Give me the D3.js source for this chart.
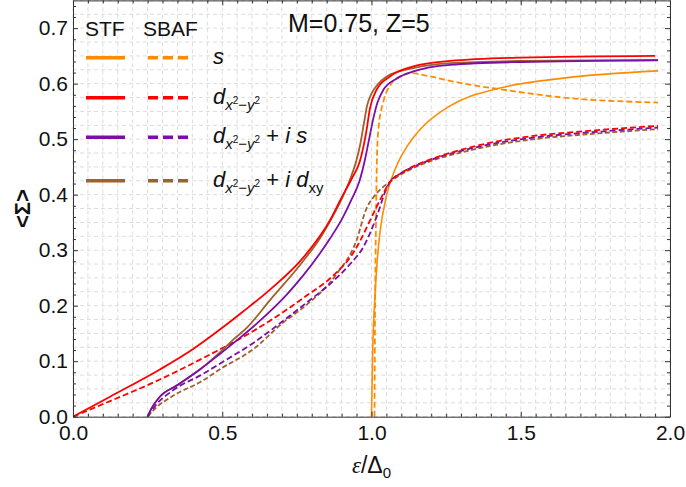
<!DOCTYPE html>
<html><head><meta charset="utf-8">
<script src="https://cdn.jsdelivr.net/npm/d3@7"></script>
<style>body{margin:0;background:#fff}svg{display:block}text{font-family:"Liberation Sans",Arial,sans-serif}</style>
</head><body><svg id="c" width="686" height="487"></svg>
<script>
// ---- data ----
const xTicks = [0.0, 0.5, 1.0, 1.5, 2.0];
const yTicks = [0.0, 0.1, 0.2, 0.3, 0.4, 0.5, 0.6, 0.7];
const title = "M=0.75, Z=5";
const stf_s = [[1.0,0],[1.004,0.12],[1.012,0.22],[1.019,0.28],[1.028,0.33],[1.051,0.40],[1.084,0.452],[1.118,0.486],[1.162,0.517],[1.263,0.560],[1.43,0.592],[1.643,0.610],[1.96,0.623]];
const sbaf_s = [[1.01,0],[1.012,0.2],[1.015,0.35],[1.018,0.46],[1.023,0.517],[1.04,0.568],[1.065,0.599],[1.095,0.613],[1.13,0.619],[1.196,0.613],[1.263,0.605],[1.31,0.600],[1.43,0.590],[1.643,0.575],[1.96,0.566]];
const stf_d = [[0,0],[0.124,0.036],[0.291,0.085],[0.40,0.121],[0.492,0.157],[0.571,0.19],[0.66,0.229],[0.772,0.287],[0.861,0.354],[0.90,0.395],[0.935,0.43],[0.961,0.46],[0.983,0.515],[0.995,0.556],[1.017,0.589],[1.062,0.613],[1.14,0.631],[1.263,0.641],[1.5,0.647],[1.95,0.650]];
const sbaf_d = [[0,0],[0.124,0.028],[0.291,0.067],[0.459,0.112],[0.571,0.144],[0.66,0.173],[0.772,0.214],[0.883,0.260],[0.93,0.288],[0.961,0.316],[0.985,0.342],[1.006,0.366],[1.03,0.392],[1.062,0.423],[1.1,0.439],[1.14,0.451],[1.2,0.464],[1.308,0.482],[1.43,0.497],[1.531,0.505],[1.75,0.516],[1.96,0.524]];
const stf_dis = [[0.25,0],[0.262,0.014],[0.291,0.036],[0.347,0.056],[0.425,0.085],[0.492,0.113],[0.559,0.142],[0.62,0.17],[0.716,0.22],[0.772,0.255],[0.827,0.294],[0.861,0.321],[0.90,0.355],[0.932,0.39],[0.96,0.425],[0.978,0.463],[0.992,0.50],[1.006,0.537],[1.02,0.566],[1.04,0.589],[1.084,0.609],[1.14,0.622],[1.263,0.634],[1.5,0.639],[1.96,0.642]];
const stf_dixy = [[0.25,0],[0.262,0.014],[0.291,0.036],[0.347,0.056],[0.425,0.085],[0.492,0.116],[0.537,0.139],[0.582,0.160],[0.66,0.210],[0.772,0.281],[0.827,0.321],[0.861,0.352],[0.90,0.392],[0.93,0.43],[0.95,0.463],[0.962,0.49],[0.975,0.53],[0.985,0.56],[1.0,0.582],[1.02,0.598],[1.051,0.613],[1.14,0.628],[1.263,0.637],[1.5,0.641],[1.96,0.643]];
const sbaf_dis = [[0.25,0],[0.27,0.016],[0.336,0.048],[0.425,0.074],[0.515,0.103],[0.61,0.135],[0.70,0.171],[0.772,0.201],[0.883,0.250],[0.93,0.276],[0.973,0.306],[1.017,0.360],[1.051,0.412],[1.062,0.423],[1.1,0.439],[1.14,0.450],[1.2,0.463],[1.308,0.480],[1.43,0.494],[1.531,0.502],[1.75,0.513],[1.96,0.521]];
const sbaf_dixy = [[0.25,0],[0.27,0.012],[0.336,0.038],[0.425,0.062],[0.5,0.088],[0.6,0.120],[0.705,0.170],[0.772,0.197],[0.883,0.257],[0.95,0.318],[0.983,0.375],[1.006,0.395],[1.035,0.412],[1.062,0.423],[1.1,0.437],[1.14,0.448],[1.2,0.461],[1.308,0.477],[1.43,0.491],[1.531,0.499],[1.75,0.510],[1.96,0.518]];

const colors = {s:"#FF8C00", d:"#FF0000", dis:"#7A0FA8", dixy:"#A0612A"};
const series = [
  {data:stf_s, c:colors.s, dash:null, w:1.6},
  {data:sbaf_s, c:colors.s, dash:"6,3", w:1.8},
  {data:sbaf_dixy, c:colors.dixy, dash:"5,2.5", w:1.8},
  {data:sbaf_dis, c:colors.dis, dash:"6,3", w:1.8},
  {data:sbaf_d, c:colors.d, dash:"6,3", w:1.8},
  {data:stf_dixy, c:colors.dixy, dash:null, w:1.8},
  {data:stf_dis, c:colors.dis, dash:null, w:1.8},
  {data:stf_d, c:colors.d, dash:null, w:1.8}
];

// ---- layout ----
const L=73, R=670, T=0.4, B=416.7;
const svg = d3.select("#c");
const x = d3.scaleLinear().domain([0,2]).range([L,R]);
const y = d3.scaleLinear().domain([0,0.75]).range([B,T]);

// grid
const g = svg.append("g");
d3.range(0,2.0001,0.05).forEach(v=>{
  g.append("line").attr("x1",x(v)).attr("x2",x(v)).attr("y1",T).attr("y2",B)
   .attr("stroke","#dcdcdc").attr("stroke-width",1).attr("stroke-dasharray","4,3");
});
d3.range(0,0.7501,0.025).forEach(v=>{
  g.append("line").attr("x1",L).attr("x2",R).attr("y1",y(v)).attr("y2",y(v))
   .attr("stroke","#dcdcdc").attr("stroke-width",1).attr("stroke-dasharray","4,3");
});

// curves
svg.append("clipPath").attr("id","cp").append("rect").attr("x",L).attr("y",T).attr("width",R-L).attr("height",B-T+1);
const line = d3.line().x(d=>x(d[0])).y(d=>y(d[1])).curve(d3.curveMonotoneX);
const cg = svg.append("g").attr("clip-path","url(#cp)");
series.forEach(s=>{
  cg.append("path").attr("d",line(s.data)).attr("fill","none").attr("stroke",s.c)
    .attr("stroke-width",s.w).attr("stroke-dasharray",s.dash).attr("stroke-linejoin","round");
});

// axes (frame with inward ticks)
const axCol="#333";
const minorX = d3.range(0,2.0001,0.05).filter(v=>Math.abs(v*2-Math.round(v*2))>1e-6);
const minorY = d3.range(0,0.7501,0.02).filter(v=>Math.abs(v*10-Math.round(v*10))>1e-6);
function styleAx(a){a.select(".domain").attr("stroke",axCol);a.selectAll("line").attr("stroke",axCol);}
function minor(a){a.select(".domain").remove();a.selectAll("line").attr("stroke",axCol);}
const ab = svg.append("g").attr("transform",`translate(0,${B})`)
  .call(d3.axisBottom(x).tickValues(xTicks).tickSize(-5).tickSizeOuter(0).tickPadding(8).tickFormat(d3.format(".1f")));
ab.call(styleAx);
ab.selectAll("text").attr("font-size",21).attr("fill","#111").attr("dy","0.72em");
svg.append("g").attr("transform",`translate(0,${B})`).call(d3.axisBottom(x).tickValues(minorX).tickSize(-3).tickSizeOuter(0).tickFormat("")).call(minor);
svg.append("g").attr("transform",`translate(0,${T})`)
  .call(d3.axisTop(x).tickValues(xTicks).tickSize(-5).tickSizeOuter(0).tickFormat("")).call(styleAx);
svg.append("g").attr("transform",`translate(0,${T})`).call(d3.axisTop(x).tickValues(minorX).tickSize(-3).tickSizeOuter(0).tickFormat("")).call(minor);
const al = svg.append("g").attr("transform",`translate(${L},0)`)
  .call(d3.axisLeft(y).tickValues(yTicks).tickSize(-5).tickSizeOuter(0).tickPadding(5).tickFormat(d3.format(".1f")));
al.call(styleAx);
al.selectAll("text").attr("font-size",21).attr("fill","#111");
svg.append("g").attr("transform",`translate(${L},0)`).call(d3.axisLeft(y).tickValues(minorY).tickSize(-3).tickSizeOuter(0).tickFormat("")).call(minor);
svg.append("g").attr("transform",`translate(${R},0)`)
  .call(d3.axisRight(y).tickValues(yTicks).tickSize(-5).tickSizeOuter(0).tickFormat("")).call(styleAx);
svg.append("g").attr("transform",`translate(${R},0)`).call(d3.axisRight(y).tickValues(minorY).tickSize(-3).tickSizeOuter(0).tickFormat("")).call(minor);

// axis titles
const xl = svg.append("text").attr("x",(L+R)/2).attr("y",473).attr("text-anchor","middle").attr("font-size",23).attr("fill","#111");
xl.append("tspan").attr("font-family","Liberation Serif, serif").attr("font-style","italic").text("ε");
xl.append("tspan").text("/Δ");
xl.append("tspan").attr("font-size",15).attr("dy",5).text("0");
svg.append("text").attr("transform",`translate(30,${(T+B)/2}) rotate(-90)`).attr("text-anchor","middle")
  .attr("font-size",22).attr("font-weight","bold").attr("fill","#111").text("<Σ>");

// title
svg.append("text").attr("x",288).attr("y",32).attr("font-size",25).attr("fill","#111").text(title);

// legend
const lg = svg.append("g");
lg.append("text").attr("x",85).attr("y",36).attr("font-size",21).attr("fill","#111").text("STF");
lg.append("text").attr("x",143).attr("y",36).attr("font-size",21).attr("fill","#111").text("SBAF");
const rows = [
  {c:colors.s, yy:57.7, lab:"s"},
  {c:colors.d, yy:97.7, lab:"d"},
  {c:colors.dis, yy:137.3, lab:"dis"},
  {c:colors.dixy, yy:180.7, lab:"dixy"}
];
rows.forEach(r=>{
  lg.append("line").attr("x1",86).attr("x2",125).attr("y1",r.yy).attr("y2",r.yy).attr("stroke",r.c).attr("stroke-width",3.5);
  lg.append("line").attr("x1",148).attr("x2",190).attr("y1",r.yy).attr("y2",r.yy).attr("stroke",r.c).attr("stroke-width",3.5).attr("stroke-dasharray","10,5");
  const t = lg.append("text").attr("x",213).attr("y",r.yy+6).attr("font-size",22).attr("fill","#111");
  if(r.lab==="s"){ t.append("tspan").attr("font-style","italic").text("s"); return; }
  t.append("tspan").attr("font-style","italic").text("d");
  t.append("tspan").attr("font-style","italic").attr("font-size",15).attr("dy",6).text("x");
  t.append("tspan").attr("font-size",10).attr("dy",-6).text("2");
  t.append("tspan").attr("font-size",15).attr("dy",6).text("−");
  t.append("tspan").attr("font-style","italic").attr("font-size",15).text("y");
  t.append("tspan").attr("font-size",10).attr("dy",-6).text("2");
  if(r.lab==="dis"){
    t.append("tspan").attr("dy",0).text(" + ");
    t.append("tspan").attr("font-style","italic").text("i s");
  } else if(r.lab==="dixy"){
    t.append("tspan").attr("dy",0).text(" + ");
    t.append("tspan").attr("font-style","italic").text("i d");
    t.append("tspan").attr("font-size",15).attr("dy",6).text("xy");
  }
});
</script></body></html>
